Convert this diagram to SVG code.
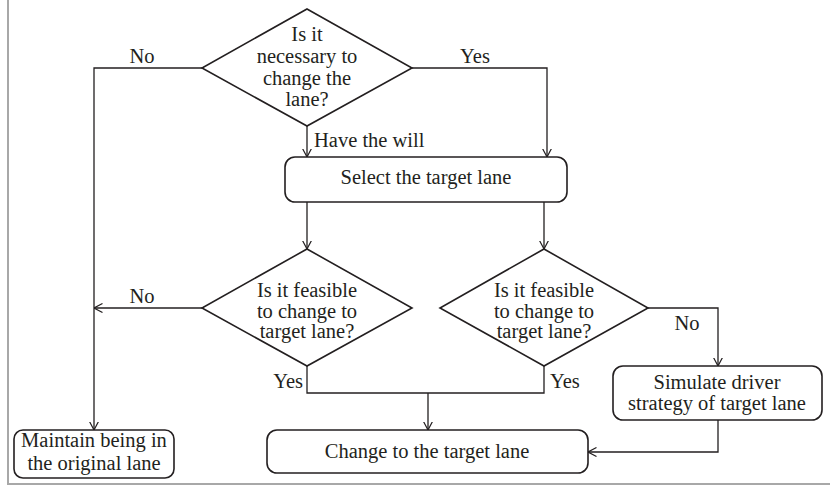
<svg xmlns="http://www.w3.org/2000/svg" width="830" height="487" viewBox="0 0 830 487">
<style>
.t{font-family:"Liberation Serif","Times New Roman",serif;font-size:20.5px;fill:#231f20}
.m{text-anchor:middle}
.n{fill:#fff;stroke:#231f20;stroke-width:1.6}
.c{fill:none;stroke:#231f20;stroke-width:1.3}
.f{stroke:#a8a8a8;stroke-width:2;fill:none}
</style>
<defs>
<marker id="a" viewBox="0 0 9 10" markerWidth="9" markerHeight="10" refX="8.5" refY="5" orient="auto" markerUnits="userSpaceOnUse">
<path d="M0,0.5 L8.5,5 L0,9.5" fill="none" stroke="#231f20" stroke-width="1.2"/>
</marker>
</defs>
<rect width="830" height="487" fill="#fff"/>
<path class="f" d="M8,0 V484 H830"/>
<g id="connectors">
<path class="c" d="M202,68 H94 V430" marker-end="url(#a)"/>
<path class="c" d="M412,68 H547 V157" marker-end="url(#a)"/>
<path class="c" d="M307,126 V157" marker-end="url(#a)"/>
<path class="c" d="M307,202 V249" marker-end="url(#a)"/>
<path class="c" d="M544,202 V249" marker-end="url(#a)"/>
<path class="c" d="M202,308 H94" marker-end="url(#a)"/>
<path class="c" d="M307,366 V393 H544 V366"/>
<path class="c" d="M428,393 V430" marker-end="url(#a)"/>
<path class="c" d="M648,308 H718 V366" marker-end="url(#a)"/>
<path class="c" d="M718,420 V452 H588" marker-end="url(#a)"/>
<text class="t m" x="142" y="63">No</text>
<text class="t m" x="475" y="63">Yes</text>
<text class="t" x="314" y="147">Have the will</text>
<text class="t m" x="142" y="303">No</text>
<text class="t" x="303" y="388" text-anchor="end">Yes</text>
<text class="t" x="550" y="388">Yes</text>
<text class="t m" x="687" y="330">No</text>
</g>
<g id="d1">
<polygon class="n" points="307,9 412,68 307,126 202,68"/>
<text class="t m" x="307" y="41">Is it</text>
<text class="t m" x="307" y="63">necessary to</text>
<text class="t m" x="307" y="85">change the</text>
<text class="t m" x="307" y="106">lane?</text>
</g>
<g id="select">
<rect class="n" x="285" y="157" width="282" height="45" rx="10"/>
<text class="t m" x="426" y="184">Select the target lane</text>
</g>
<g id="d2">
<polygon class="n" points="307,249 412,308 307,366 202,308"/>
<text class="t m" x="307" y="297">Is it feasible</text>
<text class="t m" x="307" y="318">to change to</text>
<text class="t m" x="307" y="338">target lane?</text>
</g>
<g id="d3">
<polygon class="n" points="544,249 648,308 544,366 440,308"/>
<text class="t m" x="544" y="297">Is it feasible</text>
<text class="t m" x="544" y="318">to change to</text>
<text class="t m" x="544" y="338">target lane?</text>
</g>
<g id="simulate">
<rect class="n" x="613" y="366" width="209" height="54" rx="10"/>
<text class="t m" x="717" y="389">Simulate driver</text>
<text class="t m" x="717" y="410">strategy of target lane</text>
</g>
<g id="maintain">
<rect class="n" x="14" y="430" width="160" height="48" rx="9"/>
<text class="t m" x="94" y="447">Maintain being in</text>
<text class="t m" x="94" y="470">the original lane</text>
</g>
<g id="change">
<rect class="n" x="267" y="430" width="321" height="43" rx="10"/>
<text class="t m" x="427" y="458">Change to the target lane</text>
</g>
</svg>
